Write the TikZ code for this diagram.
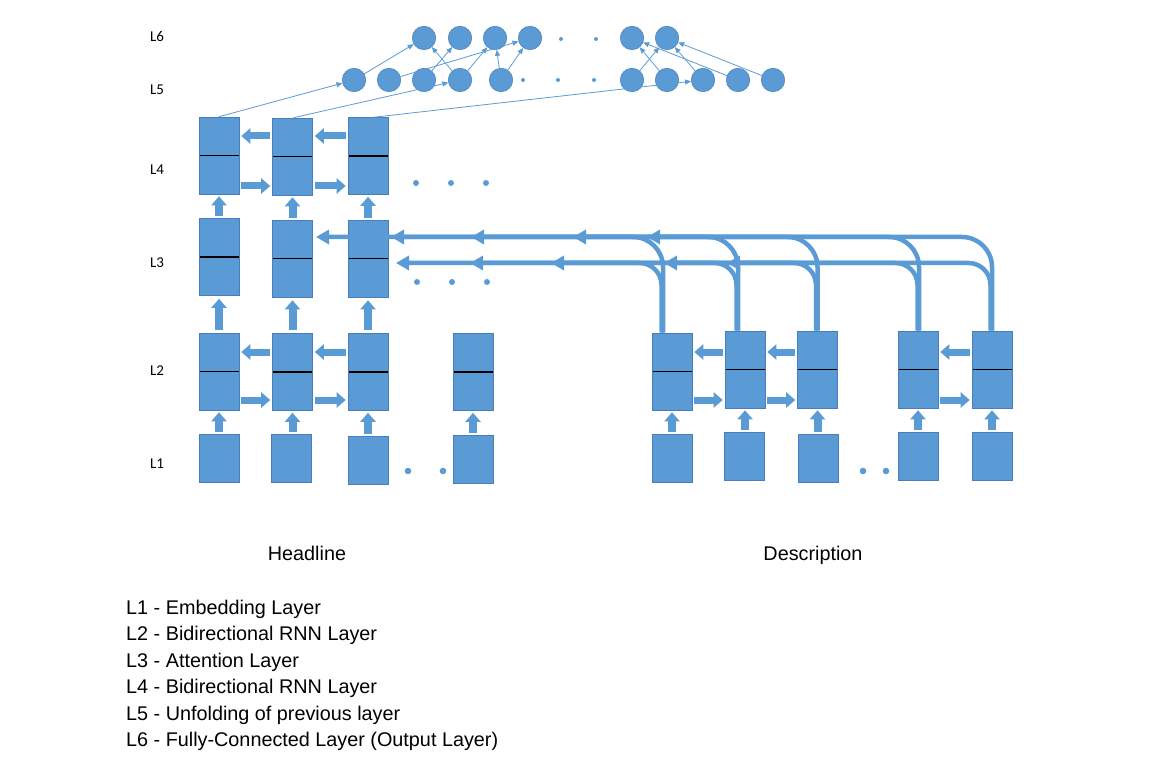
\documentclass[tikz,border=0pt]{standalone}
\usepackage{fontspec}
\setmainfont{Liberation Sans}
\newfontfamily\calfont{Carlito}
\usetikzlibrary{arrows.meta}
\definecolor{bl}{HTML}{5B9BD5}
\definecolor{bld}{HTML}{4A7EBB}
\begin{document}
\begin{tikzpicture}[x=1pt,y=-1pt,
  cell/.style={rectangle,fill=bl,draw=bld,line width=0.6pt,inner sep=0pt,minimum width=40pt,minimum height=77pt,
    path picture={\draw[black,line width=1.1pt] (path picture bounding box.west) -- (path picture bounding box.east);}},
  emb/.style={rectangle,fill=bl,draw=bld,line width=0.6pt,inner sep=0pt,minimum width=40pt,minimum height=48pt},
  neur/.style={circle,fill=bl,draw=bld,line width=0.5pt,inner sep=0pt,minimum size=23.5pt},
  blk/.style={draw=bl,line width=7pt,-{Triangle[length=9pt,width=15pt]},shorten >=2pt,shorten <=2pt},
  upblk/.style={draw=bl,line width=8pt,-{Triangle[length=9pt,width=15pt]},shorten >=2pt,shorten <=2pt},
  fcline/.style={draw=bl,line width=0.8pt,-{Triangle[length=6pt,width=5pt]}},
  att/.style={draw=bl,line width=4.5pt,-{Triangle[length=13pt,width=14pt]}},
  lab/.style={font=\calfont\fontsize{15}{18}\selectfont,anchor=base},
  leg/.style={font=\fontsize{19.8}{23}\selectfont,anchor=base west,inner sep=0pt},
]
\useasboundingbox (0,0) rectangle (1176,778);

% layer labels
\node[lab] (l6) at (157,42) {L6};
\node[lab] (l5) at (157,95) {L5};
\node[lab] (l4) at (157,175) {L4};
\node[lab] (l3) at (157,268) {L3};
\node[lab] (l2) at (157,375) {L2};
\node[lab] (l1) at (157,468) {L1};

% L6 neurons
\foreach \n/\x in {61/424,62/460,63/495,64/530,67/632,68/667}
  \node[neur] (c\n) at (\x,38) {};
\foreach \x in {561,596} \fill[bl] (\x,39) circle (2pt);
% L5 neurons
\foreach \n/\x in {51/354,52/389,53/424,54/460,55/501,56/632,57/667,58/703,59/738,510/773}
  \node[neur] (c\n) at (\x,80) {};
\foreach \x in {523,558,594} \fill[bl] (\x,80) circle (2pt);

% L4 cells
\node[cell] (b41) at (219,155.5) {};
\node[cell] (b42) at (292.5,156.5) {};
\node[cell] (b43) at (368,156) {};
% L3 cells
\node[cell] (b31) at (219,257) {};
\node[cell] (b32) at (292.5,258.5) {};
\node[cell] (b33) at (368,258.5) {};
% L2 cells headline
\node[cell] (b21) at (219,371.5) {};
\node[cell] (b22) at (292.5,372) {};
\node[cell] (b23) at (368,372) {};
\node[cell] (b24) at (473,372) {};
% L1 headline
\node[emb] (b11) at (219,458) {};
\node[emb] (b12) at (291,458) {};
\node[emb] (b13) at (368,460.5) {};
\node[emb] (b14) at (473,459.5) {};
% description L2
\node[cell] (d21) at (672,371.5) {};
\node[cell] (d22) at (745,369.5) {};
\node[cell] (d23) at (817.5,369.5) {};
\node[cell] (d24) at (918,369.5) {};
\node[cell] (d25) at (992,369.5) {};
% description L1
\node[emb] (d11) at (672,458.5) {};
\node[emb] (d12) at (744,456.5) {};
\node[emb] (d13) at (818,458.5) {};
\node[emb] (d14) at (918,456.5) {};
\node[emb] (d15) at (992,456.5) {};

% dots
\foreach \x in {416,451,486} \fill[bl] (\x,183) circle (3pt);
\foreach \x in {417,452,487} \fill[bl] (\x,282) circle (3pt);
\foreach \x in {408,443} \fill[bl] (\x,471) circle (3.3pt);
\foreach \x in {863,886} \fill[bl] (\x,471) circle (3.3pt);

% horizontal block arrows L4
\draw[blk] (b42.west |- 0,136) -- (b41.east |- 0,136);
\draw[blk] (b43.west |- 0,136) -- (b42.east |- 0,136);
\draw[blk] (b41.east |- 0,186) -- (b42.west |- 0,186);
\draw[blk] (b42.east |- 0,186) -- (b43.west |- 0,186);
% horizontal block arrows L2 headline
\draw[blk] (b22.west |- 0,352) -- (b21.east |- 0,352);
\draw[blk] (b23.west |- 0,352) -- (b22.east |- 0,352);
\draw[blk] (b21.east |- 0,400) -- (b22.west |- 0,400);
\draw[blk] (b22.east |- 0,400) -- (b23.west |- 0,400);
% horizontal block arrows L2 description
\draw[blk] (d22.west |- 0,352) -- (d21.east |- 0,352);
\draw[blk] (d23.west |- 0,352) -- (d22.east |- 0,352);
\draw[blk] (d25.west |- 0,352) -- (d24.east |- 0,352);
\draw[blk] (d21.east |- 0,400) -- (d22.west |- 0,400);
\draw[blk] (d22.east |- 0,400) -- (d23.west |- 0,400);
\draw[blk] (d24.east |- 0,400) -- (d25.west |- 0,400);

% up arrows
\draw[upblk] (b41.south |- b31.north) -- (b41.south);
\draw[upblk] (b42.south |- b32.north) -- (b42.south);
\draw[upblk] (b43.south |- b33.north) -- (b43.south);
\draw[upblk,shorten <=3pt,shorten >=3pt] (b31.south |- b21.north) -- (b31.south);
\draw[upblk,shorten <=3pt,shorten >=3pt] (b32.south |- b22.north) -- (b32.south);
\draw[upblk,shorten <=3pt,shorten >=3pt] (b33.south |- b23.north) -- (b33.south);
\draw[upblk] (b21.south |- b11.north) -- (b21.south);
\draw[upblk] (b22.south |- b12.north) -- (b22.south);
\draw[upblk] (b23.south |- b13.north) -- (b23.south);
\draw[upblk] (b24.south |- b14.north) -- (b24.south);
\draw[upblk] (d21.south |- d11.north) -- (d21.south);
\draw[upblk] (d22.south |- d12.north) -- (d22.south);
\draw[upblk] (d23.south |- d13.north) -- (d23.south);
\draw[upblk] (d24.south |- d14.north) -- (d24.south);
\draw[upblk] (d25.south |- d15.north) -- (d25.south);

% attention paths (L2 description -> L3)
\coordinate (s1) at ([xshift=-9pt]d21.north);
\coordinate (s2) at ([xshift=-7pt]d22.north);
\coordinate (s3) at ([xshift=0pt]d23.north);
\coordinate (s4) at ([xshift=1pt]d24.north);
\coordinate (s5) at ([xshift=0pt]d25.north);
\coordinate (t1) at (316,237);
\coordinate (t2) at (391,237);
\coordinate (t3) at (471,237);
\coordinate (t4) at (573,237);
\coordinate (t5) at (647,237);
\coordinate (u1) at (396,263);
\coordinate (u2) at (470,263);
\coordinate (u3) at (551,263);
\coordinate (u4) at (664,263);
\coordinate (u5) at (727,263);
\foreach \i in {1,...,5} {
  \draw[att,rounded corners=30pt] (s\i) |- (t\i);
  \draw[att,rounded corners=22pt] ([xshift=-1.5pt]s\i) |- (u\i);
}

% L4 -> L5
\draw[fcline] (b41.north) -- (c51);
\draw[fcline] ([xshift=1pt]b42.north) -- (c54);
\draw[fcline] ([xshift=6pt]b43.north) -- (c58);
% L5 -> L6
\foreach \a/\b in {51/61,52/64,53/62,54/61,54/63,55/63,55/64,56/68,57/67,58/68,59/67,510/68}
  \draw[fcline] (c\a) -- (c\b);

% captions
\node[leg,anchor=base] (hl) at (307,560) {Headline};
\node[leg,anchor=base] (ds) at (813,560) {Description};
\node[leg] (g1) at (126,614) {L1 - Embedding Layer};
\node[leg] (g2) at (126,640.5) {L2 - Bidirectional RNN Layer};
\node[leg] (g3) at (126,667) {L3 - Attention Layer};
\node[leg] (g4) at (126,693.5) {L4 - Bidirectional RNN Layer};
\node[leg] (g5) at (126,720) {L5 - Unfolding of previous layer};
\node[leg] (g6) at (126,746.5) {L6 - Fully-Connected Layer (Output Layer)};
\end{tikzpicture}
\end{document}
